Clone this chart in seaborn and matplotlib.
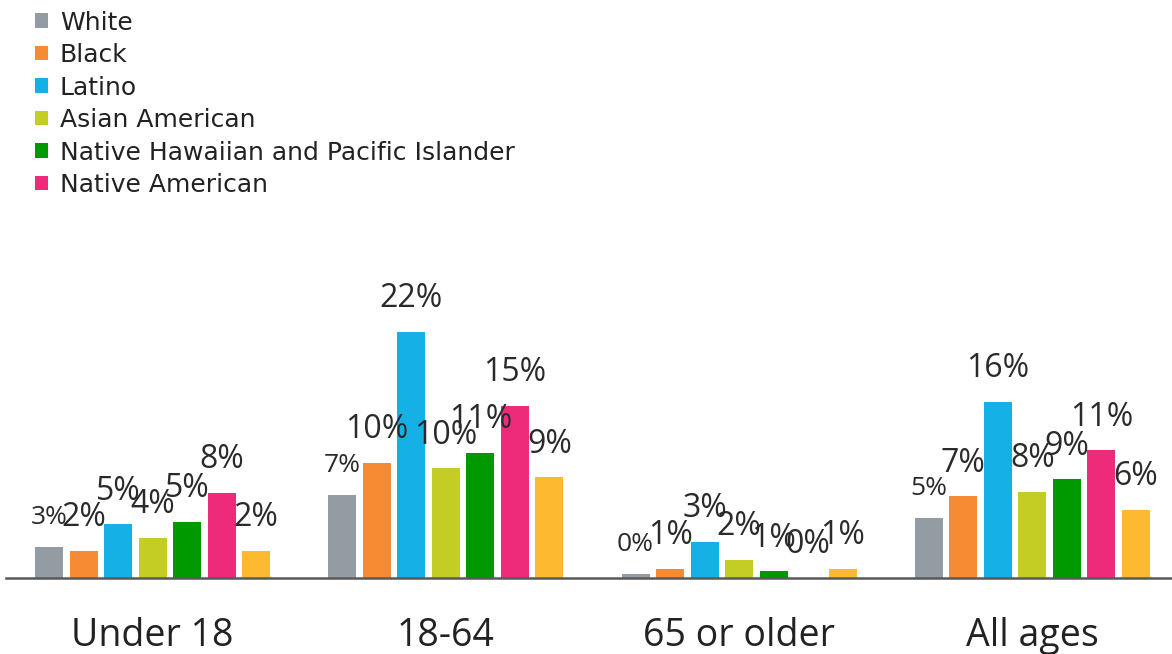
import matplotlib.pyplot as plt
import pandas as pd
import seaborn as sns

# data (share in %)
ages = ["Under 18", "18-64", "65 or older", "All ages"]
groups = ["White", "Black", "Latino", "Asian American",
          "Native Hawaiian and Pacific Islander", "Native American", "Multiracial"]
white = [2.8, 7.4, 0.4, 5.4]
black = [2.4, 10.3, 0.8, 7.3]
latino = [4.8, 22.0, 3.2, 15.7]
asian = [3.6, 9.8, 1.6, 7.7]
nhpi = [5.0, 11.2, 0.6, 8.8]
native = [7.6, 15.4, 0.0, 11.4]
multi = [2.4, 9.0, 0.8, 6.1]
colors = ["#939ba3", "#f68b33", "#15b1e6", "#c3cd23", "#009a00", "#ee2a7b", "#fdb92f"]

rows = []
for g, vals in zip(groups, [white, black, latino, asian, nhpi, native, multi]):
    for a, v in zip(ages, vals):
        rows.append({"age": a, "group": g, "value": v})
df = pd.DataFrame(rows)

sns.set_style("white")
plt.rcParams['font.family'] = ['DejaVu Sans']

fig = plt.figure(figsize=(11.72, 6.54), dpi=100)
ax = fig.add_axes([6 / 1172, 76 / 654, 1173 / 1172, 358 / 654])

sns.barplot(data=df, x="age", y="value", hue="group", order=ages, hue_order=groups,
            palette=colors, saturation=1, width=0.824, gap=0.19, linewidth=0, ax=ax)

ax.set_ylim(0, 358 / 11.2)
ax.set_xlim(-0.5, 3.5)
ax.set_xlabel("")
ax.set_ylabel("")
ax.set_yticks([])
for s in ["top", "left", "right"]:
    ax.spines[s].set_visible(False)
ax.spines["bottom"].set_color("#595959")
ax.spines["bottom"].set_linewidth(1.8)
ax.tick_params(axis="x", length=0, pad=28, labelsize=27, labelcolor="#222222")
for t in ax.get_xticklabels():
    t.set_family("Open Sans")

for i, cont in enumerate(ax.containers):
    size = 19 if i == 0 else 23
    ax.bar_label(cont, labels=[f"{round(b.get_height()):.0f}%" for b in cont],
                 padding=12, fontsize=size, color="#2a2a2a", family="Open Sans")

handles, labels = ax.get_legend_handles_labels()
ax.get_legend().remove()
fig.legend(handles[:6], labels[:6], loc="upper left", bbox_to_anchor=(12 / 1172, 1 + 12 / 654),
           frameon=False, fontsize=18, handlelength=0.52, handleheight=0.52,
           handletextpad=0.5, labelspacing=0.34, labelcolor="#222222")

fig.savefig("out.png", dpi=100)
